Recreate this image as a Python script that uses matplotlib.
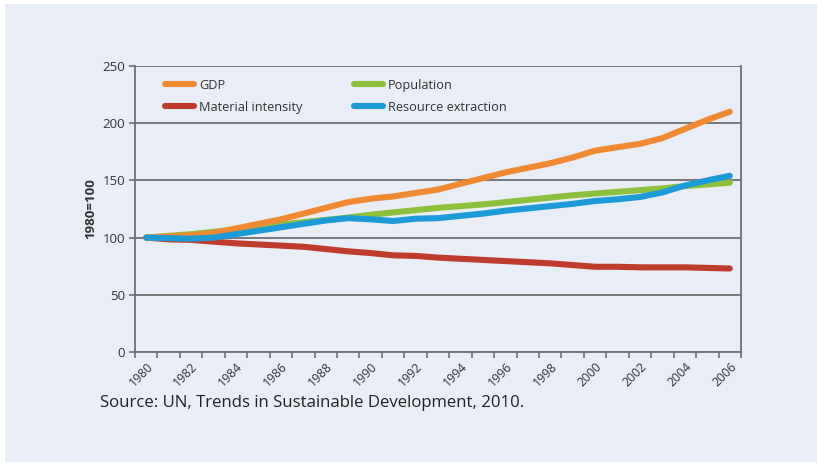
import matplotlib
matplotlib.use("Agg")
import matplotlib.pyplot as plt
from matplotlib.patches import Rectangle

years = list(range(1980, 2007))
gdp = [100, 101, 102, 104, 108, 112, 116, 121, 126, 131, 134, 136, 139, 142,
       147, 152, 157, 161, 165, 170, 176, 179, 182, 187, 195, 203, 210]
population = [100, 101.5, 103, 105, 107, 109.5, 111.5, 113.5, 115.5, 117.5, 120,
              122, 124, 126, 127.5, 129, 131, 133, 135, 137, 138.5, 140, 141.5,
              143, 145, 146.5, 148]
material = [100, 98.5, 98, 96.5, 95, 94, 93, 92, 90, 88, 86.5, 84.5, 84, 82.5,
            81.5, 80.5, 79.5, 78.5, 77.5, 76, 74.5, 74.5, 74, 74, 74, 73.5, 73]
resource = [100, 99.5, 99, 100, 103, 106, 109, 112, 115, 117, 116, 114.5, 116.5,
            117, 119, 121, 123.5, 125.5, 127.5, 129.5, 132, 133.5, 135.5, 139.5,
            145.5, 150, 154]
x_labels = [str(y) for y in range(1980, 2007, 2)]
y_ticks = [0, 50, 100, 150, 200, 250]

BG = "#E9EDF6"
fig = plt.figure(figsize=(8.22, 4.66), dpi=100, facecolor="white")
fig.patches.append(Rectangle((5 / 822, 4 / 466), 812 / 822, 458 / 466,
                             transform=fig.transFigure, facecolor=BG,
                             edgecolor="none", zorder=-10))
ax = fig.add_axes([135 / 822, 1 - 352 / 466, (741 - 135) / 822, (352 - 66) / 466])
ax.set_facecolor(BG)

lw = 4.4
series = [("GDP", gdp, "#EF8A32"),
          ("Material intensity", material, "#BF3B2C"),
          ("Population", population, "#8DC03C"),
          ("Resource extraction", resource, "#1D9BD7")]
handles = {}
for name, vals, col in [series[1], series[2], series[0], series[3]]:
    h, = ax.plot(years, vals, color=col, lw=lw, solid_capstyle="round",
                 solid_joinstyle="round", zorder=3)
    handles[name] = h

ax.set_xlim(1979.5, 2006.5)
ax.set_ylim(0, 250)
ax.set_yticks(y_ticks)
ax.set_yticklabels([str(v) for v in y_ticks])
ax.yaxis.grid(True, color="#6F6F6F", lw=1.3)
ax.set_axisbelow(True)

ax.set_xticks([y - 0.5 for y in range(1980, 2008)])
ax.set_xticklabels([])
ax.set_xticks(list(range(1980, 2007, 2)), minor=True)
ax.set_xticklabels(x_labels, minor=True, rotation=45, ha="right",
                   rotation_mode="anchor", fontsize=8.8, color="#333333",
                   family="Open Sans")
ax.tick_params(axis="x", which="major", length=4, width=1.2, color="#6F6F6F",
               direction="out")
ax.tick_params(axis="x", which="minor", length=0, pad=6)
ax.tick_params(axis="y", length=4, width=1.2, color="#6F6F6F", labelsize=9.5,
               labelcolor="#333333", pad=3)
for lab in ax.get_yticklabels():
    lab.set_family("Open Sans")

for s in ["left", "bottom", "right"]:
    ax.spines[s].set_color("#6F6F6F")
    ax.spines[s].set_linewidth(1.3)
ax.spines["top"].set_visible(False)

ax.set_ylabel("1980=100", fontsize=9.5, fontweight="bold", color="#333333",
              family="Open Sans", labelpad=4)

order = ["GDP", "Material intensity", "Population", "Resource extraction"]
leg = ax.legend([handles[n] for n in order], order, ncol=2, loc="upper left",
                bbox_to_anchor=(0.03, 0.995), frameon=False, handlelength=2.3,
                columnspacing=4.0, labelspacing=0.7, handletextpad=0.4,
                prop={"family": "Open Sans", "size": 9.2})
for t in leg.get_texts():
    t.set_color("#333333")

fig.text(100 / 822, 1 - 403 / 466, "Source: UN, Trends in Sustainable Development, 2010.",
         fontsize=12.1, color="#222222", family="Open Sans", va="center", ha="left")

fig.savefig("out.png", dpi=100, facecolor="white")
